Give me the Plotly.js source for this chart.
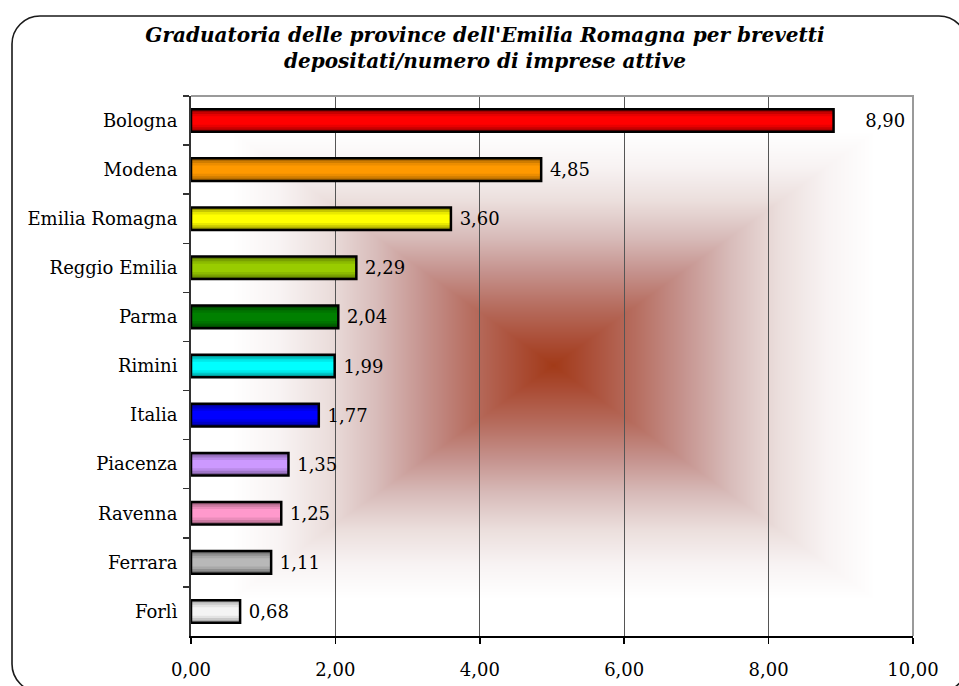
<!DOCTYPE html>
<html>
<head>
<meta charset="utf-8">
<script src="https://cdn.plot.ly/plotly-3.0.1.min.js"></script>
<style>
  html, body { margin: 0; padding: 0; background: #ffffff; }
  #chart { width: 959px; height: 686px; }
</style>
</head>
<body>
<div id="chart"></div>
<script>
// ---- data ----
const categories = ['Bologna', 'Modena', 'Emilia Romagna', 'Reggio Emilia', 'Parma', 'Rimini', 'Italia', 'Piacenza', 'Ravenna', 'Ferrara', 'Forlì'];
const values = [8.90, 4.85, 3.60, 2.29, 2.04, 1.99, 1.77, 1.35, 1.25, 1.11, 0.68];
const brightColors = ['#FF0000', '#FF9900', '#FFFF00', '#99CC00', '#008000', '#00FFFF', '#0000FF', '#CC99FF', '#FF99CC', '#B8B8B8', '#F4F4F4'];
const darkColors   = ['#9A0000', '#A86400', '#9A9A00', '#5E7E00', '#004A00', '#009A9A', '#00009A', '#7A5A9A', '#A0607E', '#6E6E6E', '#A8A8A8'];
const xTicks = [0, 2, 4, 6, 8, 10];

// ---- layout geometry (pixels) ----
const W = 959, H = 686;
const M = {l: 191, r: 46, t: 96, b: 50};
const PW = W - M.l - M.r, PH = H - M.t - M.b;

function hex2rgb(h) { return [parseInt(h.substr(1,2),16), parseInt(h.substr(3,2),16), parseInt(h.substr(5,2),16)]; }
function mix(a, b, t) {
  const A = hex2rgb(a), B = hex2rgb(b);
  return 'rgb(' + A.map((v, i) => Math.round(v + (B[i] - v) * t)).join(',') + ')';
}
const midDark = brightColors.map((c, i) => mix(darkColors[i], c, 0.45));
const midBright = brightColors.map((c, i) => mix(darkColors[i], c, 0.78));

// ---- background gradient (square "from centre") ----
function makeGradient() {
  const cv = document.createElement('canvas');
  cv.width = PW; cv.height = PH;
  const ctx = cv.getContext('2d');
  const img = ctx.createImageData(PW, PH);
  const cx = 362, cy = 269, hx = 322, hy = 234;
  const stops = [
    [0.00, 162, 58, 24], [0.10, 170, 76, 52], [0.25, 182, 108, 94], [0.40, 197, 146, 141],
    [0.55, 216, 188, 186], [0.70, 235, 222, 220], [0.85, 248, 243, 243], [1.00, 255, 255, 255]
  ];
  for (let y = 0; y < PH; y++) {
    for (let x = 0; x < PW; x++) {
      let d = Math.max(Math.abs(x - cx) / hx, Math.abs(y - cy) / hy);
      let r = 255, g = 255, b = 255;
      if (d < 1) {
        for (let k = 0; k < stops.length - 1; k++) {
          if (d >= stops[k][0] && d <= stops[k+1][0]) {
            const t = (d - stops[k][0]) / (stops[k+1][0] - stops[k][0]);
            r = stops[k][1] + (stops[k+1][1] - stops[k][1]) * t;
            g = stops[k][2] + (stops[k+1][2] - stops[k][2]) * t;
            b = stops[k][3] + (stops[k+1][3] - stops[k][3]) * t;
            break;
          }
        }
      }
      const i = (y * PW + x) * 4;
      img.data[i] = r; img.data[i+1] = g; img.data[i+2] = b; img.data[i+3] = 255;
    }
  }
  ctx.putImageData(img, 0, 0);
  return cv.toDataURL('image/png');
}

// pixel -> paper coords for decorative frame
function P(px, py) { return ((px - M.l) / PW).toFixed(5) + ',' + ((M.t + PH - py) / PH).toFixed(5); }
function roundedRect(x0, y0, x1, y1, r) {
  const k = r * 0.5523;
  return 'M' + P(x0 + r, y0) + ' L' + P(x1 - r, y0) +
    ' C' + P(x1 - r + k, y0) + ' ' + P(x1, y0 + r - k) + ' ' + P(x1, y0 + r) +
    ' L' + P(x1, y1 - r) +
    ' C' + P(x1, y1 - r + k) + ' ' + P(x1 - r + k, y1) + ' ' + P(x1 - r, y1) +
    ' L' + P(x0 + r, y1) +
    ' C' + P(x0 + r - k, y1) + ' ' + P(x0, y1 - r + k) + ' ' + P(x0, y1 - r) +
    ' L' + P(x0, y0 + r) +
    ' C' + P(x0, y0 + r - k) + ' ' + P(x0 + r - k, y0) + ' ' + P(x0 + r, y0) + ' Z';
}

const FONT = '"DejaVu Serif", "Liberation Serif", serif';
const NB = '\u00a0';

function layer(colors, width) {
  return {
    type: 'bar', orientation: 'h', y: categories, x: values,
    width: width, marker: {color: colors, line: {width: 0}},
    hoverinfo: 'skip', showlegend: false
  };
}

const labelTemplates = categories.map((c, i) => (i === 0 ? NB.repeat(5) : NB) + '%{x:.2f}');

const traces = [
  layer(darkColors, 0.46),
  layer(midDark, 0.36),
  layer(midBright, 0.27),
  layer(brightColors, 0.17),
  {
    type: 'bar', orientation: 'h', y: categories, x: values, width: 0.46,
    marker: {color: 'rgba(0,0,0,0)', line: {color: '#000000', width: 2.5}},
    texttemplate: labelTemplates, textposition: 'outside', cliponaxis: false,
    textfont: {family: FONT, size: 18, color: '#000000'},
    hoverinfo: 'skip', showlegend: false
  }
];

const layout = {
  width: W, height: H,
  margin: M,
  paper_bgcolor: '#ffffff', plot_bgcolor: '#ffffff',
  separators: ',.',
  barmode: 'overlay',
  font: {family: FONT, size: 18, color: '#000000'},
  title: {
    text: "Graduatoria delle province dell'Emilia Romagna per brevetti<br>depositati/numero di imprese attive",
    font: {family: FONT, size: 20, color: '#000000', weight: 'bold', style: 'italic'},
    x: 485 / W, xanchor: 'center', xref: 'container',
    y: 1 - 42 / H, yanchor: 'top', yref: 'container'
  },
  xaxis: {
    range: [0, 10], tickvals: xTicks, tickformat: '.2f',
    showgrid: true, gridcolor: '#555555', gridwidth: 1,
    showline: true, linecolor: '#000000', linewidth: 2,
    ticks: 'outside', ticklen: 6, tickcolor: '#000000', tickwidth: 1.5,
    ticklabelstandoff: 10,
    tickfont: {family: FONT, size: 18, color: '#000000'},
    zeroline: false, fixedrange: true
  },
  yaxis: {
    type: 'category', categoryorder: 'array', categoryarray: categories,
    autorange: 'reversed',
    showgrid: false,
    showline: true, linecolor: '#333333', linewidth: 2,
    ticks: 'outside', tickson: 'boundaries', ticklen: 6, tickcolor: '#333333', tickwidth: 1.5,
    ticklabelstandoff: 8,
    tickfont: {family: FONT, size: 18, color: '#000000'},
    fixedrange: true
  },
  images: [],
  shapes: [
    {type: 'path', xref: 'paper', yref: 'paper', path: 'M0,1 L1,1 L1,0',
     line: {color: '#9a9a9a', width: 2}, layer: 'above'},
    {type: 'path', xref: 'paper', yref: 'paper', path: roundedRect(12, 16, 967, 692, 28),
     line: {color: '#1a1a1a', width: 1.6}, fillcolor: 'rgba(0,0,0,0)', layer: 'above'}
  ]
};

layout.images.push({
  source: makeGradient(), xref: 'paper', yref: 'paper', x: 0, y: 1, sizex: 1, sizey: 1,
  xanchor: 'left', yanchor: 'top', sizing: 'stretch', layer: 'below'
});

Plotly.newPlot('chart', traces, layout, {displayModeBar: false, staticPlot: true});
</script>
</body>
</html>
